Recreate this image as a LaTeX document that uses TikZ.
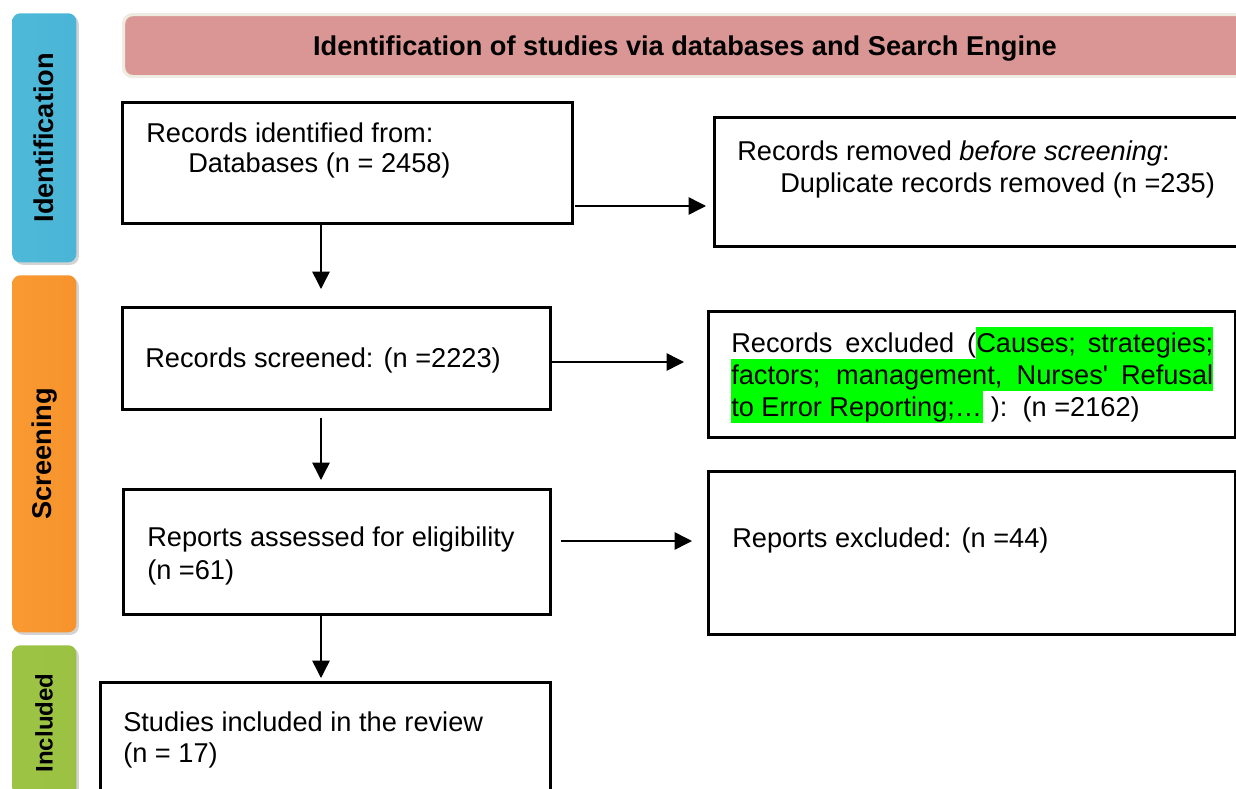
\documentclass[tikz,border=0pt]{standalone}
\usepackage{fontspec}
\setmainfont{Liberation Sans}
\newfontfamily\rawfont{Liberation Sans}
\usetikzlibrary{arrows.meta,shadows}
\newlength\px \setlength\px{0.75pt}
\definecolor{hdrfill}{HTML}{D99694}
\definecolor{hdrline}{HTML}{EEECE1}
\definecolor{hlgreen}{HTML}{00FF00}
\pgfdeclarehorizontalshading{bluebar}{100bp}{color(0bp)=(rgb,255:red,150;green,218;blue,240); color(14bp)=(rgb,255:red,80;green,186;blue,218); color(82bp)=(rgb,255:red,74;green,180;blue,214); color(100bp)=(rgb,255:red,40;green,128;blue,165)}
\pgfdeclarehorizontalshading{orbar}{100bp}{color(0bp)=(rgb,255:red,255;green,205;blue,90); color(14bp)=(rgb,255:red,250;green,155;blue,50); color(82bp)=(rgb,255:red,246;green,146;blue,44); color(100bp)=(rgb,255:red,190;green,105;blue,30)}
\pgfdeclarehorizontalshading{grbar}{100bp}{color(0bp)=(rgb,255:red,185;green,215;blue,110); color(14bp)=(rgb,255:red,158;green,196;blue,70); color(82bp)=(rgb,255:red,154;green,193;blue,66); color(100bp)=(rgb,255:red,118;green,155;blue,46)}
\newcommand{\hlstrut}{\rule[-6.5\px]{0pt}{31.5\px}}
\newcommand{\hlbox}[2]{{\setlength\fboxsep{0pt}\colorbox{hlgreen}{\hlstrut\makebox[#1][s]{#2}}}}
\newcommand{\hlleft}[2]{{\setlength\fboxsep{0pt}\colorbox{hlgreen}{\hlstrut\makebox[#1][l]{#2}}}}
\begin{document}
\begin{tikzpicture}[x=0.75pt,y=-0.75pt,
  box/.style={draw=black, line width=2.2pt, anchor=north west, inner sep=0pt},
  txt/.style={anchor=base west, inner sep=0pt, font=\fontsize{20.4}{24}\selectfont},
  arr/.style={line width=1.1pt, -{Triangle[length=13pt,width=13pt]}},
  bar/.style={anchor=north west, minimum width=64\px, rounded corners=8\px, inner sep=0pt,
    drop shadow={shadow xshift=2.5\px, shadow yshift=-2.5\px, opacity=0.35}},
  bartxt/.style={rotate=90, inner sep=0pt, font=\bfseries\fontsize{20.4}{24}\selectfont}]
\path[use as bounding box] (0,0) rectangle (1236,789);
\clip (0,0) rectangle (1236,789);

% side bars
\node[bar, minimum height=249\px, shading=bluebar] (sb1) at (12,13) {};
\node[bartxt] (sb1t) at (sb1.center) {Identification};
\node[bar, minimum height=357\px, shading=orbar] (sb2) at (12,275) {};
\node[bartxt] (sb2t) at (sb2.center) {Screening};
\node[bar, minimum height=158\px, shading=grbar] (sb3) at (12,645) {};
\node[bartxt, font=\bfseries\fontsize{18}{22}\selectfont] (sb3t) at (44,723) {Included};

% header
\node[anchor=north west, minimum width=1140\px, minimum height=62\px, rounded corners=9\px,
  fill=hdrfill, draw=hdrline, line width=2.4pt] (hdr) at (122,13) {};
\node[anchor=base, inner sep=0pt, font=\bfseries\fontsize{20.4}{24}\selectfont] (hdrt) at (685,55)
  {Identification of studies via databases and Search Engine};

% boxes
\node[box, minimum width=450\px, minimum height=121\px] (b1) at (121,101) {};
\node[box, minimum width=540\px, minimum height=129\px] (b2) at (713,116) {};
\node[box, minimum width=428\px, minimum height=102\px] (b3) at (121,306) {};
\node[box, minimum width=527\px, minimum height=126\px] (b4) at (707,310) {};
\node[box, minimum width=427\px, minimum height=125\px] (b5) at (122,488) {};
\node[box, minimum width=527\px, minimum height=163\px] (b6) at (707,470) {};
\node[box, minimum width=450\px, minimum height=130\px] (b7) at (99,681) {};

% texts
\node[txt] (t1a) at (146,142) {Records identified from:};
\node[txt] (t1b) at (188,172) {Databases (n = 2458)};
\node[txt] (t2a) at (737,160) {Records removed \textit{before screening}:};
\node[txt] (t2b) at (780,192) {Duplicate records removed (n =235)};
\node[txt] (t3) at (145,367) {Records screened: (n =2223)};
\node[txt] (t4a) at (731,352) {\makebox[482\px][s]{Records excluded (\hlbox{237\px}{Causes; strategies;}}};
\node[txt] (t4b) at (731,384) {\hlbox{482\px}{factors; management, Nurses{\rawfont'} Refusal}};
\node[txt] (t4c) at (731,416) {\hlleft{252\px}{to Error Reporting;…}\ ):\ \ (n =2162)};
\node[txt] (t5a) at (147,546) {Reports assessed for eligibility};
\node[txt] (t5b) at (147,579) {(n =61)};
\node[txt] (t6) at (732,547) {Reports excluded: (n =44)};
\node[txt] (t7a) at (123,731) {Studies included in the review};
\node[txt] (t7b) at (123,762) {(n = 17)};

% arrows
\draw[arr, shorten <=1.5\px, shorten >=7\px] (b1.east |- 0,206) -- (b2.west |- 0,206);
\draw[arr, shorten >=17\px] (b1.south -| 321,0) -- (b3.north -| 321,0);
\draw[arr, shorten >=23\px] (b3.east |- 0,362) -- (b4.west |- 0,362);
\draw[arr, shorten <=7\px, shorten >=8\px] (b3.south -| 321,0) -- (b5.north -| 321,0);
\draw[arr, shorten <=9\px, shorten >=15\px] (b5.east |- 0,541) -- (b6.west |- 0,541);
\draw[arr, shorten >=3\px] (b5.south -| 321,0) -- (b7.north -| 321,0);
\end{tikzpicture}
\end{document}
